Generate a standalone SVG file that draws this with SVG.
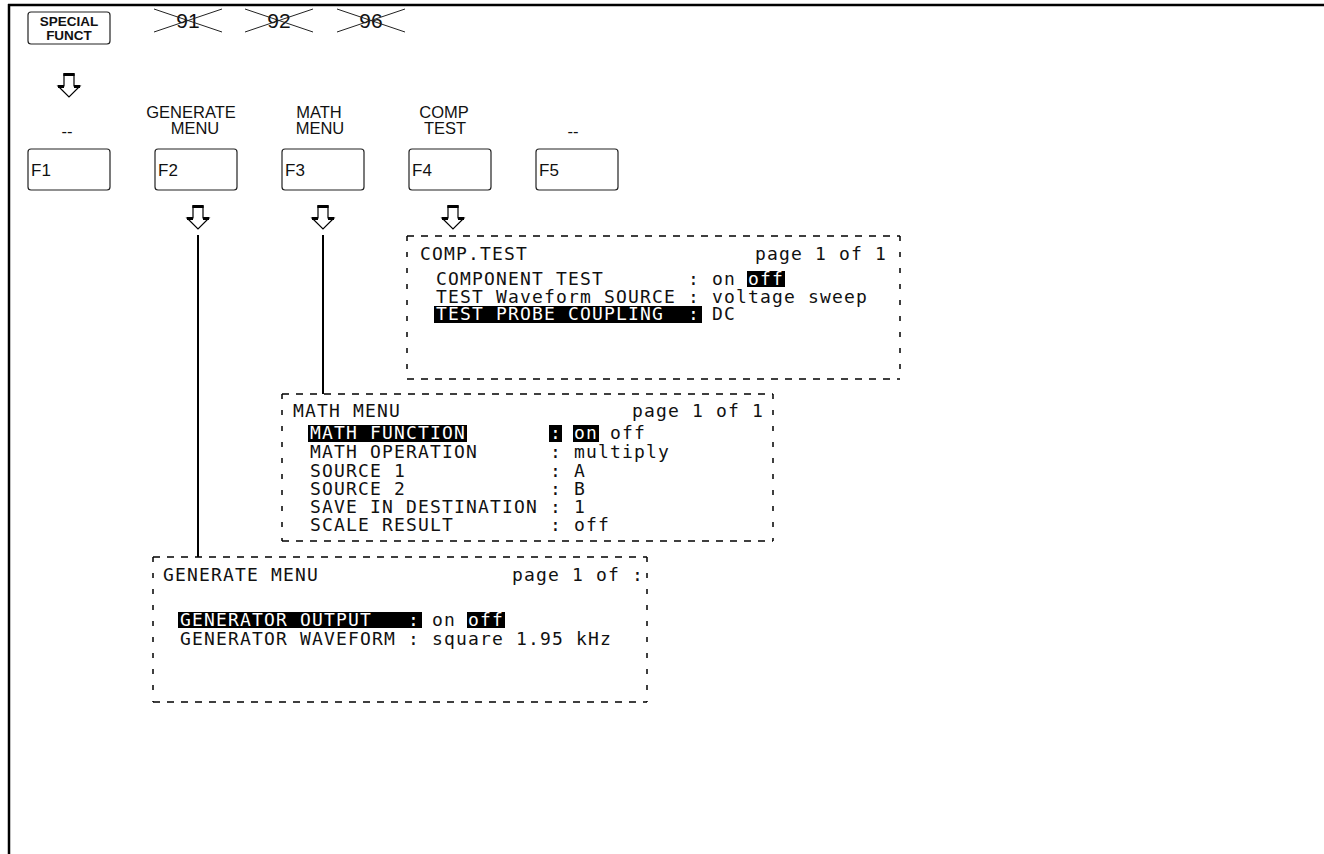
<svg xmlns="http://www.w3.org/2000/svg" width="1324" height="854" viewBox="0 0 1324 854">
<style>
.lbl{font-family:"Liberation Sans",Arial,sans-serif;font-size:16.5px;fill:#111;text-anchor:middle}
.fk{font-family:"Liberation Sans",Arial,sans-serif;font-size:17px;fill:#111}
.num{font-family:"Liberation Sans",Arial,sans-serif;font-size:21px;fill:#111;text-anchor:middle}
.sf{font-family:"Liberation Sans",Arial,sans-serif;font-weight:bold;font-size:13.5px;fill:#111;text-anchor:middle}
.key{fill:#fff;stroke:#222;stroke-width:1.2}
.x{stroke:#222;stroke-width:1}
.scr{font-family:"DejaVu Sans Mono","Liberation Mono",monospace;font-size:18px;letter-spacing:1.16px;fill:#111;white-space:pre}
.inv{fill:#fff}
.hl{fill:#000}
.dh{stroke:#000;stroke-width:1.5;stroke-dasharray:7 7;fill:none}
.dv{stroke:#000;stroke-width:1.5;stroke-dasharray:5 11;fill:none}
.con{stroke:#000;stroke-width:2;fill:none}
</style>
<defs>
<g id="arrow">
<path d="M-5,1 V13 H-11 L0,24 L11,13 H5 V1 Z" fill="#fff" stroke="#000" stroke-width="1.2"/>
<rect x="-5.6" y="0" width="11.2" height="3" fill="#000"/>
<rect x="-11" y="12" width="6" height="3" fill="#000"/>
<rect x="5" y="12" width="6" height="3" fill="#000"/>
</g>
</defs>
<rect width="1324" height="854" fill="#fff"/>
<g id="frame">
<line x1="8" y1="5" x2="1324" y2="5" stroke="#000" stroke-width="2.5"/>
<line x1="9" y1="4" x2="9" y2="854" stroke="#000" stroke-width="2.5"/>
</g>
<g id="special-funct">
<rect class="key" x="28" y="12" width="82" height="32" rx="3"/>
<text class="sf" x="69" y="26">SPECIAL</text>
<text class="sf" x="69" y="40">FUNCT</text>
<use href="#arrow" x="69" y="73"/>
</g>
<g id="crossed-91">
<text class="num" x="188" y="28">91</text>
<line class="x" x1="154" y1="9" x2="222" y2="32"/>
<line class="x" x1="154" y1="32" x2="222" y2="9"/>
</g>
<g id="crossed-92">
<text class="num" x="279" y="28">92</text>
<line class="x" x1="245" y1="9" x2="313" y2="32"/>
<line class="x" x1="245" y1="32" x2="313" y2="9"/>
</g>
<g id="crossed-96">
<text class="num" x="371" y="28">96</text>
<line class="x" x1="337" y1="9" x2="405" y2="32"/>
<line class="x" x1="337" y1="32" x2="405" y2="9"/>
</g>
<g id="F1">
<text class="lbl" x="67" y="137">--</text>
<rect class="key" x="28" y="149" width="82" height="41" rx="3"/>
<text class="fk" x="31" y="176">F1</text>
</g>
<g id="F2">
<text class="lbl" x="191" y="118">GENERATE</text>
<text class="lbl" x="195" y="134">MENU</text>
<rect class="key" x="155" y="149" width="82" height="41" rx="3"/>
<text class="fk" x="158" y="176">F2</text>
<use href="#arrow" x="198" y="205"/>
</g>
<g id="F3">
<text class="lbl" x="319" y="118">MATH</text>
<text class="lbl" x="320" y="134">MENU</text>
<rect class="key" x="282" y="149" width="82" height="41" rx="3"/>
<text class="fk" x="285" y="176">F3</text>
<use href="#arrow" x="323" y="205"/>
</g>
<g id="F4">
<text class="lbl" x="444" y="118">COMP</text>
<text class="lbl" x="445" y="134">TEST</text>
<rect class="key" x="409" y="149" width="82" height="41" rx="3"/>
<text class="fk" x="412" y="176">F4</text>
<use href="#arrow" x="453" y="205"/>
</g>
<g id="F5">
<text class="lbl" x="573" y="137">--</text>
<rect class="key" x="536" y="149" width="82" height="41" rx="3"/>
<text class="fk" x="539" y="176">F5</text>
</g>
<g id="connectors">
<line class="con" x1="198" y1="235" x2="198" y2="557"/>
<line class="con" x1="323" y1="235" x2="323" y2="394"/>
</g>
<g id="comp-test-screen">
<line class="dh" x1="407" y1="236" x2="900" y2="236"/>
<line class="dh" x1="407" y1="379" x2="900" y2="379"/>
<line class="dv" x1="407" y1="236" x2="407" y2="379"/>
<line class="dv" x1="900" y1="236" x2="900" y2="379"/>
<text class="scr" x="420" y="260">COMP.TEST</text>
<text class="scr" x="755" y="260">page 1 of 1</text>
<text class="scr" x="436" y="285">COMPONENT TEST</text>
<text class="scr" x="688" y="285">:</text>
<text class="scr" x="712" y="285">on</text>
<rect class="hl" x="747" y="271" width="38" height="16"/>
<text class="scr inv" x="748" y="285">off</text>
<text class="scr" x="436" y="303">TEST Waveform SOURCE</text>
<text class="scr" x="688" y="303">:</text>
<text class="scr" x="712" y="303">voltage sweep</text>
<rect class="hl" x="434" y="306" width="268" height="17"/>
<text class="scr inv" x="436" y="320">TEST PROBE COUPLING</text>
<text class="scr inv" x="688" y="320">:</text>
<text class="scr" x="712" y="320">DC</text>
</g>
<g id="math-menu-screen">
<line class="dh" x1="282" y1="394" x2="773" y2="394"/>
<line class="dh" x1="282" y1="541" x2="773" y2="541"/>
<line class="dv" x1="282" y1="394" x2="282" y2="541"/>
<line class="dv" x1="773" y1="394" x2="773" y2="541"/>
<text class="scr" x="293" y="417">MATH MENU</text>
<text class="scr" x="632" y="417">page 1 of 1</text>
<rect class="hl" x="308" y="425" width="159" height="17"/>
<text class="scr inv" x="310" y="439">MATH FUNCTION</text>
<rect class="hl" x="549" y="425" width="13" height="17"/>
<text class="scr inv" x="550" y="439">:</text>
<rect class="hl" x="573" y="425" width="26" height="17"/>
<text class="scr inv" x="574" y="439">on</text>
<text class="scr" x="610" y="439">off</text>
<text class="scr" x="310" y="458">MATH OPERATION</text>
<text class="scr" x="550" y="458">:</text>
<text class="scr" x="574" y="458">multiply</text>
<text class="scr" x="310" y="477">SOURCE 1</text>
<text class="scr" x="550" y="477">:</text>
<text class="scr" x="574" y="477">A</text>
<text class="scr" x="310" y="495">SOURCE 2</text>
<text class="scr" x="550" y="495">:</text>
<text class="scr" x="574" y="495">B</text>
<text class="scr" x="310" y="513">SAVE IN DESTINATION</text>
<text class="scr" x="550" y="513">:</text>
<text class="scr" x="574" y="513">1</text>
<text class="scr" x="310" y="531">SCALE RESULT</text>
<text class="scr" x="550" y="531">:</text>
<text class="scr" x="574" y="531">off</text>
</g>
<g id="generate-menu-screen">
<line class="dh" x1="153" y1="557" x2="647" y2="557"/>
<line class="dh" x1="153" y1="702" x2="647" y2="702"/>
<line class="dv" x1="153" y1="557" x2="153" y2="702"/>
<line class="dv" x1="647" y1="557" x2="647" y2="702"/>
<text class="scr" x="163" y="581">GENERATE MENU</text>
<text class="scr" x="512" y="581">page 1 of :</text>
<rect class="hl" x="178" y="612" width="244" height="16"/>
<text class="scr inv" x="180" y="626">GENERATOR OUTPUT</text>
<text class="scr inv" x="408" y="626">:</text>
<text class="scr" x="432" y="626">on</text>
<rect class="hl" x="467" y="612" width="38" height="16"/>
<text class="scr inv" x="468" y="626">off</text>
<text class="scr" x="180" y="645">GENERATOR WAVEFORM</text>
<text class="scr" x="408" y="645">:</text>
<text class="scr" x="432" y="645">square 1.95 kHz</text>
</g>
</svg>
